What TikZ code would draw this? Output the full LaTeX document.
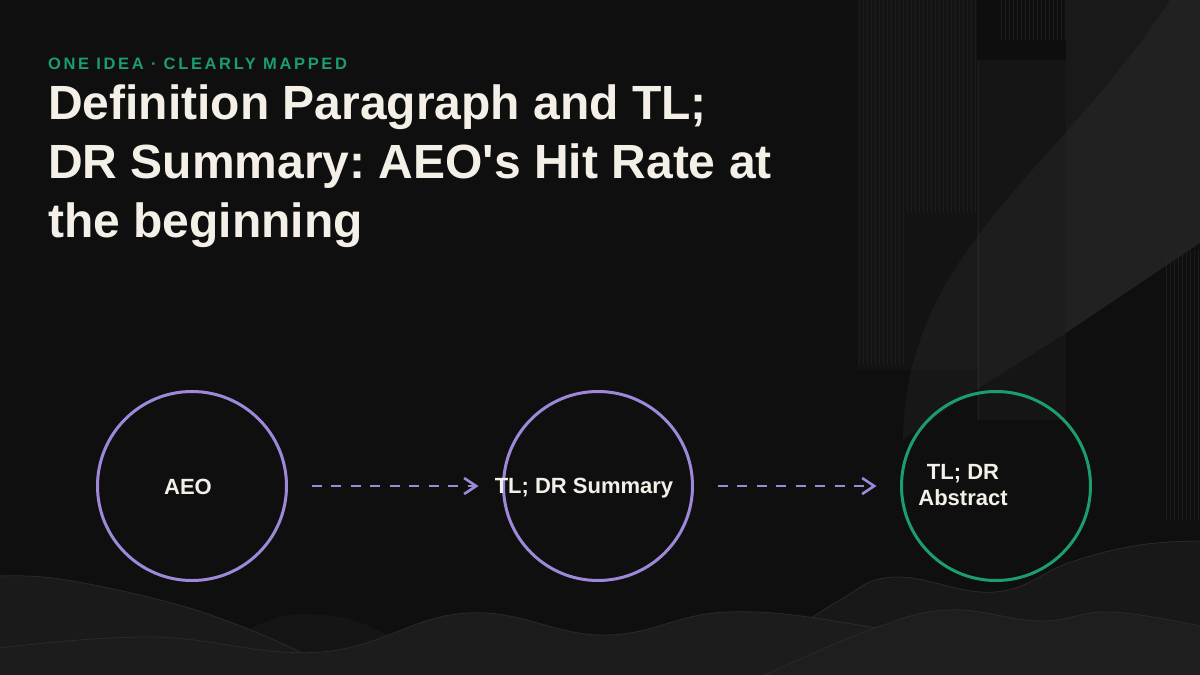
\documentclass[tikz,border=0pt]{standalone}
\usepackage{fontspec}
\setmainfont{Liberation Sans}
\newfontfamily\basefont{Liberation Sans}
\newfontfamily\trackfont[LetterSpace=16]{Liberation Sans}
\usetikzlibrary{arrows.meta}
\definecolor{bgc}{HTML}{0F0F0F}
\definecolor{titlec}{HTML}{F4F0E8}
\definecolor{greenc}{HTML}{1B9E6B}
\definecolor{purplec}{HTML}{9D88DA}
\definecolor{stripec}{HTML}{1C1C1C}
\definecolor{edgec}{HTML}{2A2A2A}
\frenchspacing
\tikzset{
  titletext/.style={anchor=base west, inner sep=0pt, text=titlec, font=\basefont\fontsize{48}{59}\selectfont\bfseries},
  kicker/.style={anchor=base west, inner sep=0pt, text=greenc, font=\trackfont\fontsize{16.5}{20}\selectfont\bfseries},
  ring/.style={circle, draw=purplec, line width=3pt, minimum size=189pt, inner sep=0pt},
  ringgreen/.style={ring, draw=greenc},
  label/.style={anchor=base, inner sep=0pt, text=titlec, font=\basefont\fontsize{22}{26}\selectfont\bfseries},
  flow/.style={draw=purplec, line width=2.6pt, dash pattern=on 10pt off 9.5pt,
    -{Straight Barb[length=12pt,width=16pt,line width=2.6pt]}, shorten <=23.5pt, shorten >=23.5pt},
  stripe/.style={draw=stripec, line width=0.7pt},
  waveedge/.style={draw=edgec, line width=0.8pt}
}
\begin{document}
\begin{tikzpicture}[x=1pt,y=-1pt]
\useasboundingbox (0,0) rectangle (1200,675);
% background
\fill[bgc] (0,0) rectangle (1200,675);
% right decorative panels
\fill[color={rgb,255:red,19;green,19;blue,19}] (857,0) rectangle (977,370);
\foreach \x in {859,863,...,903} \draw[stripe] (\x,0) -- (\x,365);
\foreach \x in {907,911,...,975} \draw[stripe] (\x,0) -- (\x,213);
\fill[color={rgb,255:red,14;green,14;blue,14}] (977,0) rectangle (1066,60);
\foreach \x in {1001,1005,...,1065} \draw[stripe] (\x,0) -- (\x,40);
\fill[color={rgb,255:red,21;green,21;blue,21}] (977,60) rectangle (1066,420);
\draw[color={rgb,255:red,32;green,32;blue,32}, line width=0.8pt] (978,62) -- (978,420);
\fill[color={rgb,255:red,25;green,25;blue,26}] (1066,0) rectangle (1200,333);
\fill[bgc] (1066,333) -- (1200,243) -- (1200,675) -- (1066,675) -- cycle;
\foreach \x in {1166,1170,...,1198} \draw[stripe] (\x,250) -- (\x,520);
% ribbon
\fill[white, opacity=0.035] (1170,0) .. controls (1060,170) and (905,250) .. (903,440)
  -- (960,400) -- (1066,333) -- (1200,243) -- (1200,0) -- cycle;
% bottom waves
\fill[color={rgb,255:red,24;green,24;blue,24}] plot[smooth, tension=0.7] coordinates
  {(780,640) (840,600) (895,577) (995,592) (1071,562) (1140,545) (1200,541)} -- (1200,675) -- (780,675) -- cycle;
\draw[waveedge] plot[smooth, tension=0.7] coordinates
  {(780,640) (840,600) (895,577) (995,592) (1071,562) (1140,545) (1200,541)};
\fill[color={rgb,255:red,21;green,21;blue,21}] plot[smooth, tension=0.7] coordinates
  {(180,675) (260,624) (320,615) (382,632) (440,675)} -- cycle;
\fill[color={rgb,255:red,26;green,26;blue,26}] plot[smooth, tension=0.7] coordinates
  {(0,576) (60,579) (160,600) (230,622) (300,652) (340,675)} -- (0,675) -- cycle;
\draw[waveedge] plot[smooth, tension=0.7] coordinates
  {(0,576) (60,579) (160,600) (230,622) (300,652) (340,675)};
\fill[color={rgb,255:red,28;green,28;blue,28}] plot[smooth, tension=0.7] coordinates
  {(0,648) (153,637) (321,652) (467,613) (604,635) (727,612) (865,626) (1000,655) (1080,675)} -- (0,675) -- cycle;
\draw[waveedge] plot[smooth, tension=0.7] coordinates
  {(0,648) (153,637) (321,652) (467,613) (604,635) (727,612) (865,626) (1000,655) (1080,675)};
\fill[color={rgb,255:red,30;green,30;blue,30}] plot[smooth, tension=0.7] coordinates
  {(765,675) (870,630) (949,610) (1040,621) (1110,612) (1200,626)} -- (1200,675) -- cycle;
\draw[waveedge] plot[smooth, tension=0.7] coordinates
  {(765,675) (870,630) (949,610) (1040,621) (1110,612) (1200,626)};
% heading
\node[kicker] (kick) at (48,69) {ONE IDEA · CLEARLY MAPPED};
\node[titletext] (t1) at (48,119) {Definition Paragraph and TL;};
\node[titletext] (t2) at (48,178) {DR Summary: AEO's Hit Rate at};
\node[titletext] (t3) at (48,237) {the beginning};
% diagram
\node[ring] (c1) at (192,486) {};
\node[ring] (c2) at (598,486) {};
\node[ringgreen] (c3) at (996,486) {};
\node[label] (l1) at (188,494) {AEO};
\node[label] (l2) at (584,493) {TL; DR Summary};
\node[label] (l3) at (963,479) {TL; DR};
\node[label] (l3b) at (963,505) {Abstract};
\draw[flow] (c1) -- (c2);
\draw[flow] (c2) -- (c3);
\end{tikzpicture}
\end{document}
